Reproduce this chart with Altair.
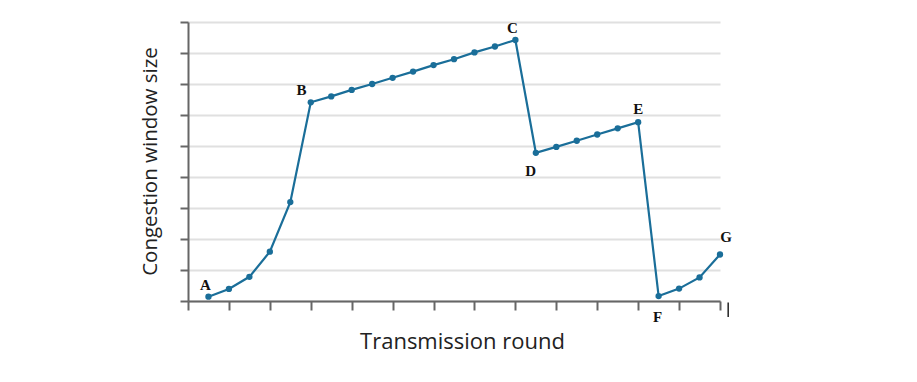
import altair as alt
import pandas as pd

rounds = list(range(1, 27))
cwnd = [0.14, 0.39, 0.78, 1.59, 3.19, 6.41, 6.6, 6.81, 7.0, 7.2, 7.4, 7.61, 7.8, 8.02, 8.21, 8.42,
        4.78, 4.97, 5.17, 5.37, 5.57, 5.77, 0.16, 0.40, 0.76, 1.5]

label_names = ["A", "B", "C", "D", "E", "F", "G"]
label_x = [0.85, 5.55, 15.85, 16.75, 22.0, 22.95, 26.3]
label_y = [0.52, 6.8, 8.8, 4.2, 6.2, -0.5, 2.05]

x_ticks = list(range(0, 27, 2))
y_ticks = list(range(0, 10))

stray_x = [26.4]

df = pd.DataFrame({"round": rounds, "cwnd": cwnd})
lab = pd.DataFrame({"round": label_x, "cwnd": label_y, "name": label_names})
stray = pd.DataFrame({"round": stray_x, "cwnd": [-0.05], "cwnd2": [-0.52]})

xscale = alt.Scale(domain=[0, 26], nice=False, zero=False)
yscale = alt.Scale(domain=[0, 9], nice=False)

line_color = "#1a6e99"

xaxis = alt.Axis(values=x_ticks, labels=False, grid=False,
                 tickSize=9, tickWidth=2, tickColor="#666666",
                 domainColor="#666666", domainWidth=2,
                 title="Transmission round", titleFont="Open Sans",
                 titleFontSize=22, titleFontWeight="normal", titleColor="#222222",
                 titleX=274, titleY=40, titleBaseline="middle", titleAlign="center")
yaxis = alt.Axis(values=y_ticks, labels=False, grid=True, tickCount=10,
                 gridColor="#e0e0e0", gridWidth=2,
                 tickSize=8, tickWidth=2, tickColor="#666666",
                 domainColor="#666666", domainWidth=2,
                 title="Congestion window size", titleFont="Open Sans",
                 titleFontSize=20.5, titleFontWeight="normal", titleColor="#222222",
                 titleX=-38, titleY=139, titleAngle=-90,
                 titleBaseline="middle", titleAlign="center")

X = alt.X("round:Q", scale=xscale, axis=xaxis)
Y = alt.Y("cwnd:Q", scale=yscale, axis=yaxis)

base = alt.Chart(df)

line = base.mark_line(color=line_color, strokeWidth=2.2, clip=False).encode(x=X, y=Y)

points = base.mark_circle(color=line_color, size=40, opacity=1, clip=False).encode(x=X, y=Y)

labels = alt.Chart(lab).mark_text(font="Liberation Serif", fontWeight="bold", fontSize=15,
                                  color="#111111", baseline="middle", align="center").encode(
    x=X, y=Y, text="name:N",
)

stray_rule = alt.Chart(stray).mark_rule(color="#222222", strokeWidth=1.5, clip=False).encode(
    x=X, y=Y, y2="cwnd2:Q",
)

chart = alt.layer(line, points, labels, stray_rule).properties(
    width=532, height=279,
    autosize=alt.AutoSizeParams(type="none"),
    padding={"left": 180, "top": 14, "right": 180, "bottom": 70},
).configure_view(stroke=None)

chart.save("out.html", embed_options={"renderer": "svg", "actions": False})
